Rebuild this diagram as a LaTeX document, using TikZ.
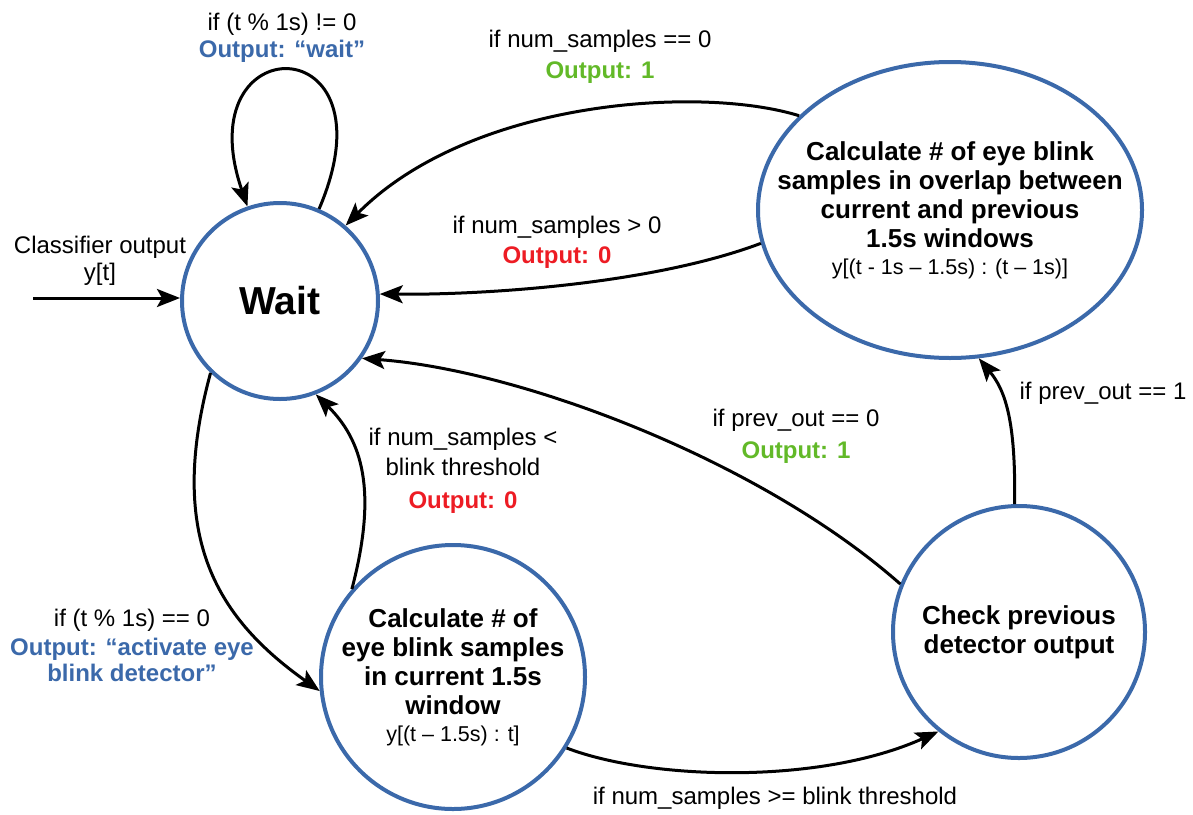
\documentclass[tikz,border=0pt]{standalone}
\usepackage{fontspec}
\setmainfont{Liberation Sans}
\usepackage{xcolor}
\usetikzlibrary{shapes, arrows.meta, positioning, calc}
\definecolor{stateblue}{RGB}{59,105,170}
\definecolor{outgreen}{RGB}{98,185,40}
\definecolor{outred}{RGB}{237,28,36}
\tikzstyle{state} = [circle, draw=stateblue, line width=4pt, align=center, inner sep=-16pt, font=\bfseries\fontsize{26}{29}\selectfont]
\tikzstyle{note} = [align=center, inner sep=0pt, font=\fontsize{24}{27}\selectfont]
\tikzstyle{conn} = [->, line width=3pt]
\newcommand{\outblue}[1]{\textcolor{stateblue}{\bfseries #1}}
\newcommand{\outgreen}[1]{\textcolor{outgreen}{\bfseries #1}}
\newcommand{\outred}[1]{\textcolor{outred}{\bfseries #1}}
\newcommand{\winfont}{\mdseries\fontsize{21.5}{24}\selectfont}

\begin{document}
\begin{tikzpicture}[x=1pt, y=-1pt, >={Stealth[length=23pt, width=18pt, inset=5pt]}]
	\useasboundingbox (0,0) rectangle (1193,814);

	% states
	\node[state, minimum size=196pt, font=\bfseries\fontsize{39}{42}\selectfont] (wait) at (280,301) {Wait};
	\node[state, ellipse, minimum width=384pt, minimum height=296pt, inner xsep=-60pt, inner ysep=0pt] (overlap) at (950,210) {
		Calculate \# of eye blink\\samples in overlap between\\current and previous\\1.5s windows\\[-2pt]{\winfont y[(t - 1s – 1.5s) : (t – 1s)]}
	};
	\node[state, minimum size=264pt] (cur) at (453,677) {
		Calculate \# of\\eye blink samples\\in current 1.5s\\window\\[-2pt]{\winfont y[(t – 1.5s) : t]}
	};
	\node[state, minimum size=252pt] (check) at (1019,632) {Check previous\\detector output};

	% input
	\coordinate (clsin) at (33,298);
	\node[note] (clsnote) at (100,261) {Classifier output\\y[t]};
	\draw[conn] (clsin) -- (clsin -| wait.west);

	% transitions
	\draw[conn] (wait.67) .. controls (398,25) and (185,25) .. (wait.109);
	\draw[conn] (overlap.148) .. controls (700,85) and (470,100) .. (wait.49);
	\draw[conn] (overlap.190) .. controls (650,285) and (480,295) .. (wait.4);
	\draw[conn] (check.158) .. controls (760,460) and (520,370) .. (wait.-35);
	\draw[conn] (check.92) .. controls (1016,420) and (1005,390) .. (overlap.-79);
	\draw[conn] (wait.-134) .. controls (165,540) and (220,620) .. (cur.186);
	\draw[conn] (cur.139) .. controls (378,490) and (362,440) .. (wait.-69);
	\draw[conn] (cur.-32) .. controls (650,780) and (820,785) .. (check.-129);

	% transition labels
	\node[note] (loopnote) at (282,38) {if (t \% 1s) != 0\\\outblue{Output: “wait”}};
	\node[note] (zeronote) at (600,57) {if num\_samples == 0\\[4pt]\outgreen{Output: 1}};
	\node[note] (posnote) at (557,242) {if num\_samples > 0\\[3pt]\outred{Output: 0}};
	\node[note] (actnote) at (132,645) {if (t \% 1s) == 0\\[2pt]\outblue{Output: “activate eye}\\[-1pt]\outblue{blink detector”}};
	\node[note] (lownote) at (463,471) {if num\_samples <\\[3pt]blink threshold\\[6pt]\outred{Output: 0}};
	\node[note] (prevzeronote) at (796,436) {if prev\_out == 0\\[5pt]\outgreen{Output: 1}};
	\node[note] (prevonenote) at (1103,393) {if prev\_out == 1};
	\node[note] (highnote) at (775,798) {if num\_samples >= blink threshold};
\end{tikzpicture}
\end{document}
